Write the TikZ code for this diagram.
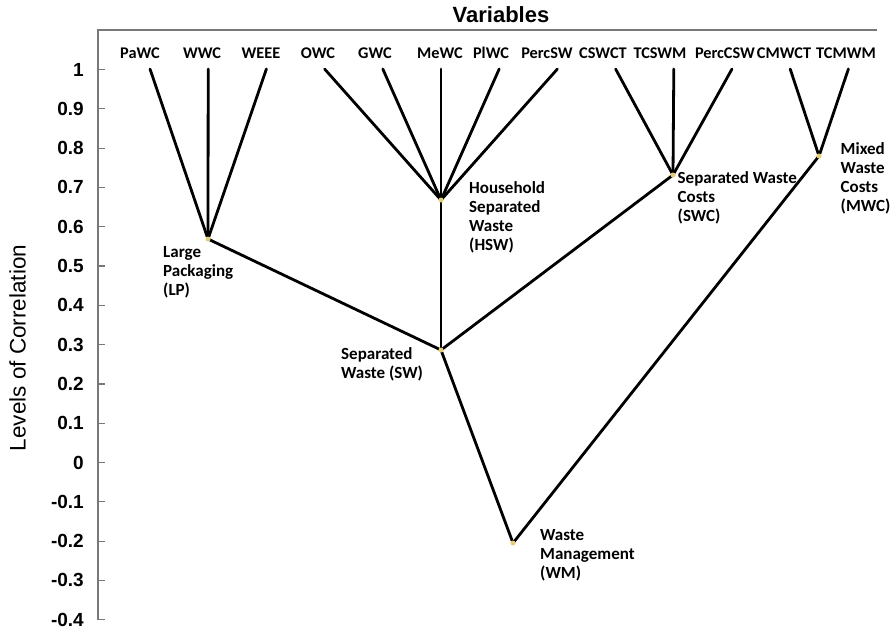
\documentclass[tikz,border=0pt]{standalone}
\usepackage{fontspec}
\setmainfont{Carlito}
\newfontfamily\arialfont{Liberation Sans}
\definecolor{axisgray}{RGB}{120,120,120}
\definecolor{dotyellow}{RGB}{228,205,115}
\begin{document}
\begin{tikzpicture}[x=1pt,y=-1pt,
  branch/.style={line width=2.8pt, black, line cap=round},
  axisline/.style={line width=1.6pt, axisgray},
  dotnode/.style={circle, fill=dotyellow, inner sep=0pt, minimum size=5pt},
  leaflabel/.style={font=\fontsize{16.3}{20}\selectfont\bfseries, anchor=base, inner sep=0pt},
  clusterlabel/.style={font=\fontsize{17}{19}\selectfont\bfseries, anchor=north west, align=left, inner sep=0pt},
  ticklabel/.style={font=\arialfont\bfseries\fontsize{19}{22}\selectfont, anchor=east, inner sep=0pt}]
\useasboundingbox (0,0) rectangle (894,633);

% axis frame
\coordinate (axtopL) at (98,30);
\coordinate (axtopR) at (877,30);
\coordinate (axbot) at (98,620);
\draw[axisline] (axtopR) -- (axtopL) -- (axbot);

% ticks and tick labels
\foreach \v/\t [count=\k] in {1/1,0.9/0.9,0.8/0.8,0.7/0.7,0.6/0.6,0.5/0.5,0.4/0.4,0.3/0.3,0.2/0.2,0.1/0.1,0/0,-0.1/-0.1,-0.2/-0.2,-0.3/-0.3,-0.4/-0.4}{
  \pgfmathsetmacro\yy{462.5-393*\v}
  \coordinate (tk\k) at (98,\yy);
  \coordinate (tke\k) at (105,\yy);
  \draw[axisline, line width=1.2pt] (tk\k) -- (tke\k);
  \node[ticklabel] (tl\k) at (84,\yy) {\t};
}

% titles
\node[font=\arialfont\bfseries\fontsize{22}{24}\selectfont, anchor=base, inner sep=0pt] (vartitle) at (501,22) {Variables};
\node[font=\arialfont\fontsize{22.5}{24}\selectfont, rotate=90, inner sep=0pt] (ytitle) at (17.5,348) {Levels of Correlation};

% leaf tops
\foreach \x [count=\i from 0] in {150,208.2,266.4,324.6,382.8,441,499.2,557.4,615.6,673.8,732,790.2,848.4}{
  \coordinate (c\i) at (\x,69);
}
% leaf labels
\foreach \name/\x in {PaWC/140,WWC/202,WEEE/261,OWC/318,GWC/375,MeWC/440,PlWC/491,PercSW/547,CSWCT/603,TCSWM/660,PercCSW/725,CMWCT/784,TCMWM/846}{
  \node[leaflabel] (l\name) at (\x,58) {\name};
}

% internal nodes
\coordinate (LP) at (208,239);
\coordinate (HSW) at (441,200);
\coordinate (SWC) at (673,175);
\coordinate (MWC) at (819,156);
\coordinate (SW) at (441,350);
\coordinate (WM) at (513,543);

% branches
\draw[branch] (c0) -- (LP);
\draw[branch] (c1) -- (LP);
\draw[branch] (c2) -- (LP);
\draw[branch] (c3) -- (HSW);
\draw[branch] (c4) -- (HSW);
\draw[branch] (c5) -- (HSW);
\draw[branch] (c6) -- (HSW);
\draw[branch] (c7) -- (HSW);
\draw[branch] (c8) -- (SWC);
\draw[branch] (c9) -- (SWC);
\draw[branch] (c10) -- (SWC);
\draw[branch] (c11) -- (MWC);
\draw[branch] (c12) -- (MWC);
\draw[branch] (LP) -- (SW);
\draw[branch] (HSW) -- (SW);
\draw[branch] (SWC) -- (SW);
\draw[branch] (SW) -- (WM);
\draw[branch] (MWC) -- (WM);

% dots
\foreach \n in {LP,HSW,SWC,MWC,SW,WM}{
  \node[dotnode] (dot\n) at (\n) {};
}

% cluster labels
\node[clusterlabel] (tLP) at (163,246) {Large\\Packaging\\(LP)};
\node[clusterlabel] (tHSW) at (469,181) {Household\\Separated\\Waste\\(HSW)};
\node[clusterlabel] (tSWC) at (677.5,171) {Separated Waste\\Costs\\(SWC)};
\node[clusterlabel] (tMWC) at (840.5,142.5) {Mixed\\Waste\\Costs\\(MWC)};
\node[clusterlabel] (tSW) at (341,347.5) {Separated\\Waste (SW)};
\node[clusterlabel] (tWM) at (540,529.5) {Waste\\Management\\(WM)};
\end{tikzpicture}
\end{document}
